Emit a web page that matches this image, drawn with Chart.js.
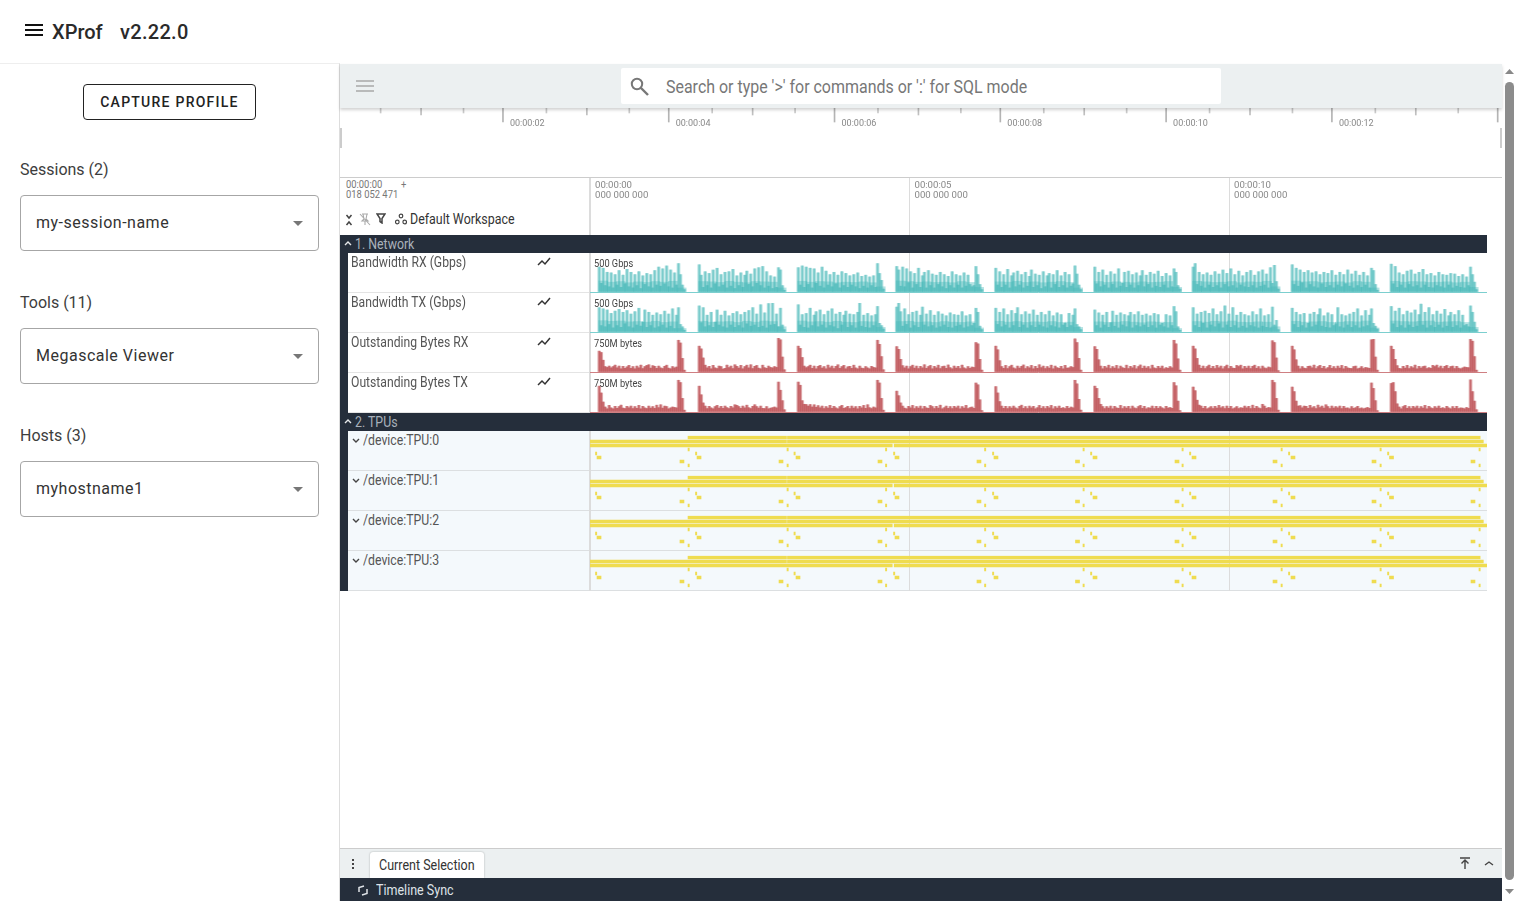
<!DOCTYPE html>
<html>
<head>
<meta charset="utf-8">
<title>XProf</title>
<script src="https://cdn.jsdelivr.net/npm/chart.js@4/dist/chart.umd.min.js"></script>
<style>
  html, body { margin: 0; height: 100%; overflow: hidden; background: #fff; font-family: Roboto, sans-serif; }
  .abs, canvas { position: absolute; }
  .c { position: absolute; white-space: pre; transform: scaleX(.84); transform-origin: 0 50%; }
  .dark { background: #252e3b; }
  .select { position: absolute; left: 20px; width: 297px; height: 54px; border: 1px solid #a6a6a6; border-radius: 4px; }
  .select span { position: absolute; left: 15px; top: 17px; font-size: 16px; letter-spacing: .5px; color: #333; }
  .select i { position: absolute; left: 272px; top: 25px; border: 5px solid transparent; border-top-color: #777; border-bottom: 0; }
  .side { position: absolute; left: 20px; font-size: 16px; color: #3d3d3d; }
</style>
</head>
<body>
<!-- app bar and sidebar -->
<svg class="abs" style="left:25px;top:24px" width="18" height="12"><path d="M0 1h18M0 6h18M0 11h18" stroke="#111" stroke-width="2"/></svg>
<div class="abs" style="left:52px;top:20px;font-size:20px;font-weight:500;color:#2a2a2a">XProf</div>
<div class="abs" style="left:120px;top:20px;font-size:20px;font-weight:500;letter-spacing:.3px;color:#2a2a2a">v2.22.0</div>
<div class="abs" style="left:0;top:63px;width:340px;height:838px;border-top:1px solid #eee;border-right:1px solid #ddd;box-sizing:border-box"></div>
<div class="abs" style="left:83px;top:84px;width:171px;height:34px;border:1px solid #222;border-radius:4px;text-align:center;line-height:34px;font-size:14px;font-weight:500;letter-spacing:1.25px;color:#222">CAPTURE PROFILE</div>
<div class="side" style="top:160px">Sessions (2)</div>
<div class="select" style="top:195px"><span>my-session-name</span><i></i></div>
<div class="side" style="top:293px">Tools (11)</div>
<div class="select" style="top:328px"><span>Megascale Viewer</span><i></i></div>
<div class="side" style="top:426px">Hosts (3)</div>
<div class="select" style="top:461px"><span>myhostname1</span><i></i></div>

<!-- trace viewer toolbar -->
<div class="abs" style="left:340px;top:64px;width:1162px;height:44px;background:#ecf0f1;box-shadow:0 2px 3px rgba(0,0,0,.18);z-index:5"></div>
<svg class="abs" style="left:356px;top:80px;z-index:6" width="18" height="12"><path d="M0 1h18M0 6h18M0 11h18" stroke="#a8a8a8" stroke-width="1.6"/></svg>
<div class="abs" style="left:621px;top:68px;width:600px;height:36px;background:#fff;border-radius:2px;z-index:6"></div>
<svg class="abs" style="left:630px;top:77px;z-index:7" width="20" height="20"><circle cx="7" cy="7" r="5.2" fill="none" stroke="#777" stroke-width="2"/><path d="M11 11l7 7" stroke="#777" stroke-width="2.4"/></svg>
<div class="c" style="left:666px;top:75px;font-size:19px;color:#777;z-index:7">Search or type '&gt;' for commands or ':' for SQL mode</div>

<div class="abs" style="left:340px;top:128px;width:2px;height:20px;background:#ccc"></div>
<div class="abs" style="left:1500px;top:128px;width:2px;height:20px;background:#ccc"></div>
<canvas id="overview" style="left:340px;top:108px" width="1162" height="21"></canvas>

<!-- timeline header -->
<div class="abs" style="left:340px;top:177px;width:1162px;height:1px;background:#ccc"></div>
<div class="c" style="left:346px;top:180px;font-size:11.2px;line-height:10px;color:#777">00:00:00        +
018 052 471</div>
<svg class="abs" style="left:345px;top:214px" width="8" height="12"><path d="M1.5 1l2.5 3 2.5-3M1.5 11l2.5-3 2.5 3" fill="none" stroke="#444" stroke-width="1.5"/></svg>
<svg class="abs" style="left:359px;top:213px" width="12" height="13"><path d="M3 1h6M4 1l1 5-2 2h6L7 6l1-5M6 8v4M1 1l10 11" fill="none" stroke="#aaa" stroke-width="1.1"/></svg>
<svg class="abs" style="left:376px;top:213px" width="10" height="11"><path d="M1 1h8L6 5.5V10L4 8.5v-3z" fill="none" stroke="#444" stroke-width="1.5"/></svg>
<svg class="abs" style="left:395px;top:213px" width="12" height="12"><g fill="none" stroke="#444" stroke-width="1.2"><circle cx="6" cy="3" r="1.8"/><circle cx="2.3" cy="9" r="1.8"/><circle cx="9.7" cy="9" r="1.8"/></g></svg>
<div class="c" style="left:410px;top:210px;font-size:14.8px;color:#333">Default Workspace</div>
<canvas id="ruler" style="left:588px;top:178px;z-index:2" width="914" height="413"></canvas>

<!-- bottom drawer -->
<div class="abs" style="left:340px;top:848px;width:1162px;height:30px;background:#ecf0f1;border-top:1px solid #ccc;box-sizing:border-box"></div>
<svg class="abs" style="left:351px;top:858px" width="4" height="12"><path d="M2 1v2M2 5v2M2 9v2" stroke="#444" stroke-width="2"/></svg>
<div class="abs" style="left:370px;top:852px;width:114px;height:26px;background:#fff;border-radius:3px 3px 0 0;box-shadow:0 0 2px rgba(0,0,0,.3)"></div>
<div class="c" style="left:379px;top:856px;font-size:14.9px;color:#333">Current Selection</div>
<svg class="abs" style="left:1459px;top:857px" width="12" height="13"><path d="M1 1h10M6 12V4M2.5 6.5L6 3l3.5 3.5" fill="none" stroke="#444" stroke-width="1.4"/></svg>
<svg class="abs" style="left:1484px;top:860px" width="10" height="7"><path d="M1 5l4-3 4 3" fill="none" stroke="#444" stroke-width="1.4"/></svg>
<div class="abs dark" style="left:340px;top:878px;width:1162px;height:23px"></div>
<svg class="abs" style="left:357px;top:885px" width="12" height="11"><path d="M7 1L2 2.5V7M5 10l5-1.5V4" fill="none" stroke="#dfe3e8" stroke-width="1.5"/></svg>
<div class="c" style="left:376px;top:881px;font-size:14.9px;color:#dfe3e8">Timeline Sync</div>

<!-- scrollbar -->
<div class="abs" style="left:1505px;top:82px;width:9px;height:798px;background:#8c8c8c;border-radius:5px"></div>
<svg class="abs" style="left:1505px;top:69px" width="9" height="6"><path d="M0 5h9L4.5 0z" fill="#888"/></svg>
<svg class="abs" style="left:1505px;top:889px" width="9" height="6"><path d="M0 0h9L4.5 5z" fill="#888"/></svg>

<script>
// Time is in seconds, the viewport is 63.9 px per second
const pxPerSecond = 63.9;
const rulerTicks = ['00:00:00', '00:00:05', '00:00:10'];
const rulerSubTicks = ['000 000 000', '000 000 000', '000 000 000'];

const overviewMajor = [2, 4, 6, 8, 10, 12, 14];
const overviewMid = [1, 3, 5, 7, 9, 11, 13];
const overviewMinor = [0.5, 1.5, 2.5, 3.5, 4.5, 5.5, 6.5, 7.5, 8.5, 9.5, 10.5, 11.5, 12.5, 13.5];

const groupNames = ['1. Network', '2. TPUs'];
const counterNames = ['Bandwidth RX (Gbps)', 'Bandwidth TX (Gbps)', 'Outstanding Bytes RX', 'Outstanding Bytes TX'];
const counterScales = ['500 Gbps', '500 Gbps', '750M bytes', '750M bytes'];
const counterMax = [500, 500, 750, 750];
const deviceNames = ['/device:TPU:0', '/device:TPU:1', '/device:TPU:2', '/device:TPU:3'];

const burstStarts = [0.145, 1.71, 3.26, 4.8, 6.35, 7.9, 9.44, 10.99, 12.54];
const sampleStep = 0.031;

const bandwidthRx = [
  [430,150,410,110,340,90,330,70,300,120,370,80,290,140,390,90,340,70,300,110,350,60,280,130,320,90,300,70,370,120,430,100,400,140,450,90,380,70,330,120,490,300,120,40],
  [470,290,80,350,110,320,70,380,140,410,90,300,120,340,70,350,100,390,60,280,110,330,80,290,360,130,310,90,400,150,420,110,440,70,350,100,280,60,260,80,420,380,110,30],
  [420,120,450,80,430,130,410,70,400,150,330,100,430,70,360,120,300,90,340,140,290,70,350,110,320,80,280,120,300,90,330,60,270,100,290,70,260,110,280,80,490,320,200,50],
  [440,380,100,430,90,400,160,350,70,320,130,410,80,280,340,70,370,110,310,70,290,130,340,90,300,60,270,110,350,70,300,120,280,70,330,100,290,130,90,110,440,300,130,40],
  [410,120,350,80,300,120,390,70,280,330,90,360,120,300,70,340,100,270,380,80,310,110,290,60,350,90,280,320,70,300,130,370,80,280,110,340,70,300,100,140,450,310,120,40],
  [430,140,340,90,380,120,290,70,350,130,310,70,400,100,150,340,80,360,120,300,70,330,110,280,370,90,290,130,340,70,310,100,360,80,270,120,320,70,280,90,400,340,110,50],
  [430,490,130,340,100,300,70,330,120,290,80,350,110,310,70,380,130,320,90,400,110,300,70,360,120,280,90,340,80,370,110,290,70,350,100,380,120,310,70,420,150,460,180,50],
  [470,130,410,100,380,160,340,70,370,130,330,90,350,70,300,140,340,80,320,110,370,70,290,120,340,90,300,140,380,100,310,70,360,110,290,80,340,120,280,70,410,370,130,30],
  [480,140,440,80,330,120,300,70,360,130,380,90,310,110,340,70,390,120,300,80,320,70,280,110,340,90,300,70,290,120,320,70,310,100,270,80,300,70,260,110,430,300,170,40]
];
const bandwidthTx = [
  [420,110,400,90,380,130,320,70,360,110,390,80,340,140,370,90,310,70,350,120,410,100,170,380,80,340,110,290,70,330,90,300,120,360,70,310,100,400,60,290,420,130,90,30],
  [450,160,420,90,290,110,340,80,170,380,120,290,90,360,70,280,120,320,80,350,110,300,70,340,140,370,100,420,120,310,80,470,100,330,70,490,120,500,130,310,90,410,120,40],
  [470,120,300,80,320,70,410,110,290,350,90,380,120,300,70,360,110,400,90,310,60,340,120,290,360,80,310,110,300,70,340,500,100,290,80,320,70,280,110,300,440,150,110,50],
  [430,500,350,100,400,130,300,70,340,110,360,80,290,430,120,310,90,370,110,290,70,350,90,310,120,280,80,330,70,300,100,290,120,350,70,280,90,300,110,150,410,340,100,40],
  [410,130,340,90,400,120,300,70,370,110,320,420,80,300,120,350,70,310,110,380,80,290,120,340,90,300,70,360,110,280,90,330,70,300,120,150,80,320,110,290,400,130,90,40],
  [380,110,330,70,290,120,340,80,160,360,100,290,70,330,120,300,90,280,340,70,300,110,350,90,290,120,310,80,280,110,320,70,300,120,150,90,300,70,280,110,440,350,90,30],
  [420,110,310,80,340,150,360,70,320,120,400,90,300,140,350,70,450,120,310,80,420,110,290,70,340,100,300,70,280,110,350,90,300,70,400,100,280,80,300,70,430,120,200,40],
  [410,130,340,80,300,110,320,70,150,310,90,340,120,300,400,100,280,80,330,70,300,110,140,420,90,300,70,280,120,310,80,340,110,400,70,280,90,370,110,290,400,150,100,50],
  [440,140,360,80,410,110,300,70,360,120,330,80,380,100,300,480,120,340,70,420,110,300,80,360,120,310,70,390,100,280,340,80,300,110,370,70,290,110,130,90,450,340,170,40]
];
// Steady level under the bandwidth spikes, ten bins per burst
const bandwidthRxFloor = [
  [190,170,180,160,175,165,180,170,185,70],
  [180,175,165,185,170,160,180,175,170,70],
  [185,170,180,175,160,170,165,175,160,90],
  [190,180,170,175,165,170,160,180,165,80],
  [175,170,185,165,175,160,170,180,165,70],
  [180,165,175,170,160,175,165,170,180,80],
  [185,175,165,170,180,160,175,170,185,90],
  [190,175,180,165,170,175,160,180,170,70],
  [185,170,180,175,165,170,175,160,170,80]
];
const bandwidthTxFloor = [
  [195,185,190,175,180,170,185,165,175,60],
  [185,170,175,180,165,185,170,190,180,90],
  [190,175,180,170,185,170,165,180,175,80],
  [180,185,170,175,165,180,170,165,175,70],
  [185,170,180,165,175,170,180,165,170,80],
  [175,165,170,180,170,160,175,170,165,60],
  [180,170,185,175,190,170,165,175,170,90],
  [185,170,175,180,165,170,180,175,190,70],
  [190,180,175,185,190,170,175,180,165,80]
];
const outstandingRx = [
  [460,430,260,120,100,130,90,120,150,90,130,70,125,80,115,145,80,120,70,130,90,150,75,120,145,160,85,140,125,80,130,90,75,125,150,85,70,120,90,110,700,640,300,40],
  [570,510,310,150,90,125,70,145,90,75,130,120,65,80,150,95,130,75,160,125,85,145,70,120,150,90,160,75,125,145,85,70,150,95,80,130,100,90,120,100,750,710,330,50],
  [570,520,320,130,95,120,150,80,130,70,125,145,85,120,70,150,90,130,75,125,160,80,120,145,70,115,125,80,150,90,70,130,85,75,120,90,70,125,100,90,700,610,340,50],
  [560,500,280,140,90,130,70,120,150,85,130,75,125,90,160,80,120,145,70,125,90,150,75,120,130,80,155,95,70,130,85,125,75,150,90,70,120,80,110,100,650,620,280,40],
  [570,490,250,120,80,145,75,120,150,90,70,130,85,125,155,75,120,90,145,70,125,80,160,95,130,75,120,85,150,70,130,95,80,125,70,145,85,90,120,100,730,650,300,40],
  [560,500,270,130,70,125,90,150,75,120,85,145,70,130,95,80,150,75,125,90,145,70,120,155,80,130,85,120,70,150,90,75,125,85,130,70,95,80,120,90,700,620,290,40],
  [570,510,300,150,80,130,75,120,150,80,125,75,145,90,130,70,120,150,75,125,85,80,145,120,150,70,125,85,130,75,125,150,80,120,70,130,90,75,110,95,690,650,310,30],
  [570,490,270,130,70,120,85,75,125,130,90,150,75,120,145,80,125,70,95,145,80,120,75,130,85,145,70,125,90,80,75,120,130,70,85,120,75,100,90,80,710,720,330,40],
  [570,500,280,140,80,70,125,85,145,75,120,90,150,70,125,85,120,130,75,95,80,145,120,150,90,130,75,125,145,80,120,130,75,125,85,70,90,110,100,95,720,680,340,40]
];
const outstandingTx = [
  [570,420,220,110,70,145,90,70,125,80,120,150,85,75,125,90,130,75,120,80,145,70,125,90,75,130,85,120,80,150,95,160,85,130,120,70,90,110,100,90,700,650,300,40],
  [570,380,200,130,75,125,90,70,120,145,85,125,80,130,95,75,125,90,160,145,120,80,130,90,150,95,75,125,160,120,85,130,80,75,120,70,85,95,110,90,660,480,250,50],
  [660,590,250,170,165,130,165,110,160,105,140,90,130,75,120,85,145,80,125,90,70,120,145,80,95,125,75,130,85,120,70,125,90,145,80,160,95,75,110,90,700,640,300,40],
  [460,360,200,130,85,70,125,90,145,75,120,85,130,70,125,90,80,145,120,75,125,85,150,70,95,130,80,120,75,125,90,130,70,120,85,145,75,95,110,80,640,600,270,30],
  [560,420,230,130,80,125,75,120,85,130,90,70,125,150,80,120,75,130,90,125,70,95,145,80,120,75,125,90,145,70,120,85,130,80,95,75,125,80,110,90,700,620,280,40],
  [570,520,300,170,120,75,120,85,130,70,125,90,80,145,75,120,85,125,70,130,90,75,120,145,80,125,70,95,85,130,75,125,80,120,90,70,125,85,100,80,650,580,240,30],
  [550,470,260,150,130,80,125,70,90,120,75,125,85,145,90,120,75,130,80,125,70,90,120,75,95,85,130,90,125,75,150,80,125,90,75,170,130,80,100,90,700,650,300,40],
  [550,450,240,130,140,90,130,125,80,145,90,120,75,150,95,130,85,160,120,75,130,85,120,90,130,75,125,85,90,70,120,80,95,125,75,90,70,85,100,80,640,520,250,30],
  [630,650,450,180,110,70,120,145,80,120,75,125,90,130,75,120,85,145,70,125,90,75,120,85,130,80,95,75,125,90,70,120,80,125,75,90,85,70,100,80,710,450,240,50]
];
const counterBursts = [bandwidthRx, bandwidthTx, outstandingRx, outstandingTx];
const counterFloors = [bandwidthRxFloor, bandwidthTxFloor, null, null];
const counterHalo = ['rgba(70, 184, 184, 0.42)', 'rgba(70, 184, 184, 0.42)', 'rgba(186, 70, 76, 0.45)', 'rgba(186, 70, 76, 0.45)'];
const counterCore = ['rgba(70, 184, 184, 0.5)', 'rgba(70, 184, 184, 0.5)', 'rgba(182, 62, 68, 0.6)', 'rgba(182, 62, 68, 0.6)'];
const counterFloorFill = 'rgba(70, 184, 184, 0.4)';
const counterLines = ['#7ccfcf', '#7ccfcf', '#cf7f82', '#cf7f82'];

// Slice lanes of one device, top to bottom
const tpuLanes = ['step', 'module', 'graph', 'begin', 'launch', 'infeed', 'outfeed', 'end'];
const stepSpans = [[1.534, 3.075], [3.09, 13.93]];
const moduleSpans = [[0, 3.075], [3.09, 13.98]];
const graphSpans = [[0, 4.73], [4.76, 14.04]];
const beginTicks = [1.534, 3.083, 4.624, 6.174, 7.715, 9.264, 10.814, 12.363, 13.912];
const launchTicks = [0.086, 1.651, 3.192, 4.75, 6.299, 7.833, 9.382, 10.931, 12.481];
const infeedStarts = [0.11, 1.675, 3.224, 4.773, 6.322, 7.872, 9.421, 10.97, 12.512];
const outfeedStarts = [1.408, 2.958, 4.507, 6.056, 7.598, 9.155, 10.689, 12.238, 13.787];
const endTicks = [1.534, 3.083, 4.624, 6.174, 7.715, 9.264, 10.814, 12.363, 13.912];
const tickLength = 0.02;
const blockLength = 0.0626;

Chart.defaults.devicePixelRatio = 1;
Chart.defaults.animation = false;
Chart.defaults.responsive = false;
Chart.defaults.plugins.legend.display = false;
Chart.defaults.plugins.tooltip.enabled = false;

const axisFont = { family: 'Roboto, sans-serif', size: 9 };

function addDiv(cls, style, text) {
  const el = document.createElement('div');
  el.className = cls;
  el.style.cssText = style;
  if (text) el.textContent = text;
  document.body.appendChild(el);
  return el;
}

function addCanvas(left, top, width, height) {
  const canvas = document.createElement('canvas');
  canvas.width = width;
  canvas.height = height;
  canvas.style.cssText = `left:${left}px;top:${top}px;z-index:4`;
  document.body.appendChild(canvas);
  return canvas;
}

function chevron(left, top, up, color) {
  const d = up ? 'M1 5l3-3 3 3' : 'M1 2l3 3 3-3';
  addDiv('abs', `left:${left}px;top:${top}px;z-index:4;width:8px;height:7px`).innerHTML =
    `<svg width="8" height="7" style="display:block"><path d="${d}" fill="none" stroke="${color}" stroke-width="1.4"/></svg>`;
}

// Overview strip: tick marks hang down from the toolbar
new Chart(document.getElementById('overview'), {
  type: 'bar',
  data: {
    datasets: [
      { data: overviewMajor.map(t => ({ x: t, y: 14 })), backgroundColor: '#b4b4b4', barThickness: 1 },
      { data: overviewMid.map(t => ({ x: t, y: 7 })), backgroundColor: '#bfbfbf', barThickness: 1 },
      { data: overviewMinor.map(t => ({ x: t, y: 5 })), backgroundColor: '#cacaca', barThickness: 1 }
    ]
  },
  options: {
    layout: { padding: 0 },
    scales: {
      x: {
        type: 'linear',
        min: 0.022,
        max: 14.04,
        offset: false,
        grid: { display: false },
        border: { display: false },
        afterFit: scale => { scale.height = 0; },
        afterBuildTicks: scale => { scale.ticks = overviewMajor.slice(0, 6).map(v => ({ value: v })); },
        ticks: {
          autoSkip: false,
          maxRotation: 0,
          mirror: true,
          align: 'start',
          labelOffset: 6,
          padding: -0.5,
          color: '#888',
          font: axisFont,
          callback: v => '00:00:' + String(v).padStart(2, '0')
        }
      },
      y: { display: false, reverse: true, min: 0, max: 21 }
    }
  }
});

// Time ruler behind the tracks, its grid runs down through every row
new Chart(document.getElementById('ruler'), {
  type: 'bar',
  data: { datasets: [{ data: [] }] },
  options: {
    layout: { padding: { left: 2 } },
    scales: {
      x: {
        type: 'linear',
        position: 'top',
        min: 0,
        max: 912 / pxPerSecond,
        offset: false,
        afterFit: scale => { scale.height = 0; },
        afterBuildTicks: scale => { scale.ticks = rulerTicks.map((_, i) => ({ value: i * 5 })); },
        grid: {
          color: '#dcdcdc',
          drawTicks: false,
          offset: false,
          lineWidth: ctx => (ctx.tick && ctx.tick.value === 0 ? 2 : 1)
        },
        border: { display: false },
        ticks: {
          autoSkip: false,
          maxRotation: 0,
          mirror: true,
          align: 'start',
          labelOffset: 5,
          padding: -8,
          color: '#888',
          font: { family: 'Roboto, sans-serif', size: 9.6, lineHeight: 1.05 },
          callback: v => [rulerTicks[v / 5], rulerSubTicks[v / 5]]
        }
      },
      y: { display: false }
    }
  }
});

// Group bands and the dark rail on the left
addDiv('abs dark', 'left:340px;top:235px;width:1147px;height:18px;z-index:3');
addDiv('abs dark', 'left:340px;top:413px;width:1147px;height:18px;z-index:3');
addDiv('abs dark', 'left:340px;top:253px;width:8px;height:338px;z-index:3');
[235, 413].forEach((top, i) => {
  chevron(344, top + 5, true, '#e6e8ea');
  addDiv('c', `left:355px;top:${top}px;font-size:14.7px;line-height:18px;color:#aab2bb;z-index:4`, groupNames[i]);
});

// Counter tracks
counterNames.forEach((name, i) => {
  const top = 253 + i * 40;
  addDiv('abs', `left:348px;top:${top}px;width:1139px;height:40px;background:#fff;box-sizing:border-box;border-bottom:1px solid #e4e4e4`);
  addDiv('c', `left:351px;top:${top + 1}px;font-size:14.5px;line-height:18px;color:#555;z-index:4`, name);
  addDiv('abs', `left:537px;top:${top + 4}px;z-index:4;width:14px;height:10px`).innerHTML =
    '<svg width="14" height="10" style="display:block"><path d="M1 8l4-4 3 3 5-6" fill="none" stroke="#333" stroke-width="1.5"/></svg>';
  addDiv('c', `left:594px;top:${top + 5}px;font-size:11px;line-height:12px;color:#444;z-index:5`, counterScales[i]);

  const plotTop = i < 2 ? top + 10 : top + 5;
  const points = [];
  counterBursts[i].forEach((burst, b) => {
    burst.forEach((v, j) => points.push({ x: burstStarts[b] + j * sampleStep, y: v }));
  });
  const datasets = [
    { data: points, backgroundColor: counterHalo[i], barThickness: 3 },
    { data: points, backgroundColor: counterCore[i], barThickness: 1 }
  ];
  if (counterFloors[i]) {
    const floorPoints = [];
    counterFloors[i].forEach((bins, b) => {
      bins.forEach((v, k) => floorPoints.push({ x: burstStarts[b] + (k * 4.4 + 2) * sampleStep, y: v }));
    });
    datasets.push({ data: floorPoints, backgroundColor: counterFloorFill, barThickness: 9 });
  }
  new Chart(addCanvas(590, plotTop, 897, top + 40 - plotTop), {
    type: 'bar',
    data: { datasets },
    options: {
      grouped: false,
      layout: { padding: { bottom: 1 } },
      scales: {
        x: { display: false, type: 'linear', min: 0, max: 897 / pxPerSecond, offset: false },
        y: {
          min: 0,
          max: counterMax[i],
          afterFit: scale => { scale.width = 0; },
          afterBuildTicks: scale => { scale.ticks = [{ value: 0 }]; },
          border: { display: false },
          grid: { color: counterLines[i], drawTicks: false },
          ticks: { display: false }
        }
      }
    }
  });
});

// TPU tracks
const tpuSlices = [];
stepSpans.forEach(s => tpuSlices.push({ x: s, y: 'step' }));
moduleSpans.forEach(s => tpuSlices.push({ x: s, y: 'module' }));
graphSpans.forEach(s => tpuSlices.push({ x: s, y: 'graph' }));
beginTicks.forEach(t => tpuSlices.push({ x: [t, t + tickLength], y: 'begin' }));
launchTicks.forEach(t => tpuSlices.push({ x: [t, t + tickLength], y: 'launch' }));
infeedStarts.forEach(t => tpuSlices.push({ x: [t, t + blockLength], y: 'infeed' }));
outfeedStarts.forEach(t => tpuSlices.push({ x: [t, t + blockLength], y: 'outfeed' }));
endTicks.forEach(t => tpuSlices.push({ x: [t, t + tickLength], y: 'end' }));

deviceNames.forEach((name, i) => {
  const top = 431 + i * 40;
  addDiv('abs', `left:348px;top:${top}px;width:1139px;height:40px;background:#f4f9fc;box-sizing:border-box;border-bottom:1px solid #dcdfe1`);
  chevron(352, top + 6, false, '#444');
  addDiv('c', `left:363px;top:${top}px;font-size:14.6px;line-height:18px;color:#555;z-index:4`, name);
  new Chart(addCanvas(590, top + 4, 897, 33), {
    type: 'bar',
    data: { labels: tpuLanes, datasets: [{ data: tpuSlices, backgroundColor: '#efdc50', barThickness: 3 }] },
    options: {
      indexAxis: 'y',
      layout: { padding: { top: 0.5, bottom: 0.5 } },
      scales: {
        x: { display: false, type: 'linear', min: 0, max: 897 / pxPerSecond, offset: false },
        y: { display: false, type: 'category', labels: tpuLanes }
      }
    }
  });
});
</script>
</body>
</html>
